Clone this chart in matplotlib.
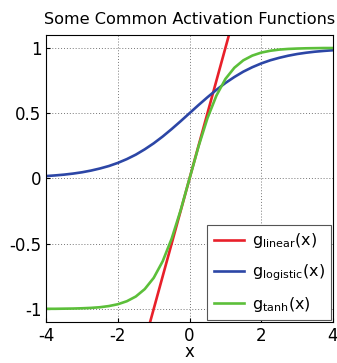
import matplotlib
matplotlib.use("Agg")
import matplotlib.pyplot as plt

plt.rcParams["axes.unicode_minus"] = False

# values
x_pts = [-4.0, -3.75, -3.5, -3.25, -3.0, -2.75, -2.5, -2.25, -2.0, -1.75, -1.5,
         -1.25, -1.0, -0.75, -0.5, -0.25, 0.0, 0.25, 0.5, 0.75, 1.0, 1.25, 1.5,
         1.75, 2.0, 2.25, 2.5, 2.75, 3.0, 3.25, 3.5, 3.75, 4.0]
logistic_y = [0.018, 0.023, 0.029, 0.037, 0.047, 0.060, 0.076, 0.095, 0.119,
              0.148, 0.182, 0.223, 0.269, 0.321, 0.378, 0.438, 0.500, 0.562,
              0.622, 0.679, 0.731, 0.777, 0.818, 0.852, 0.881, 0.905, 0.924,
              0.940, 0.953, 0.963, 0.971, 0.977, 0.982]
tanh_y = [-0.999, -0.999, -0.998, -0.997, -0.995, -0.992, -0.987, -0.978, -0.964,
          -0.941, -0.905, -0.848, -0.762, -0.635, -0.462, -0.245, 0.0, 0.245,
          0.462, 0.635, 0.762, 0.848, 0.905, 0.941, 0.964, 0.978, 0.987, 0.992,
          0.995, 0.997, 0.998, 0.999, 0.999]
linear_x = [-4.0, 4.0]
linear_y = [-4.0, 4.0]

x_ticks = [-4, -2, 0, 2, 4]
y_ticks = [-1, -0.5, 0, 0.5, 1]
y_labels = ["-1", "-0.5", "0", "0.5", "1"]

fig = plt.figure(figsize=(3.37, 3.63), dpi=100)
ax = fig.add_axes([0.137, 0.113, 0.851, 0.791])

ax.plot(linear_x, linear_y, color="#e8202a", lw=1.9, label=r"g$_{\mathrm{linear}}$(x)")
ax.plot(x_pts, logistic_y, color="#2c46a6", lw=1.9, label=r"g$_{\mathrm{logistic}}$(x)")
ax.plot(x_pts, tanh_y, color="#5cbf3a", lw=1.9, label=r"g$_{\mathrm{tanh}}$(x)")

ax.set_xlim(-4, 4)
ax.set_ylim(-1.1, 1.1)
ax.set_xticks(x_ticks)
ax.set_yticks(y_ticks)
ax.set_yticklabels(y_labels)
ax.tick_params(direction="in", labelsize=12, length=3)
ax.grid(True, linestyle=(0, (1, 2)), color="#777777", linewidth=0.7)
ax.set_xlabel("x", fontsize=12, labelpad=-1)
ax.set_title("Some Common Activation Functions", fontsize=11.6, pad=8)

leg = ax.legend(loc="lower right", fontsize=11.5, fancybox=False, framealpha=1,
                edgecolor="#555555", handlelength=1.9, handletextpad=0.5,
                borderaxespad=0.1, labelspacing=0.75)
leg.get_frame().set_linewidth(0.8)

fig.savefig("out.png", dpi=100)
